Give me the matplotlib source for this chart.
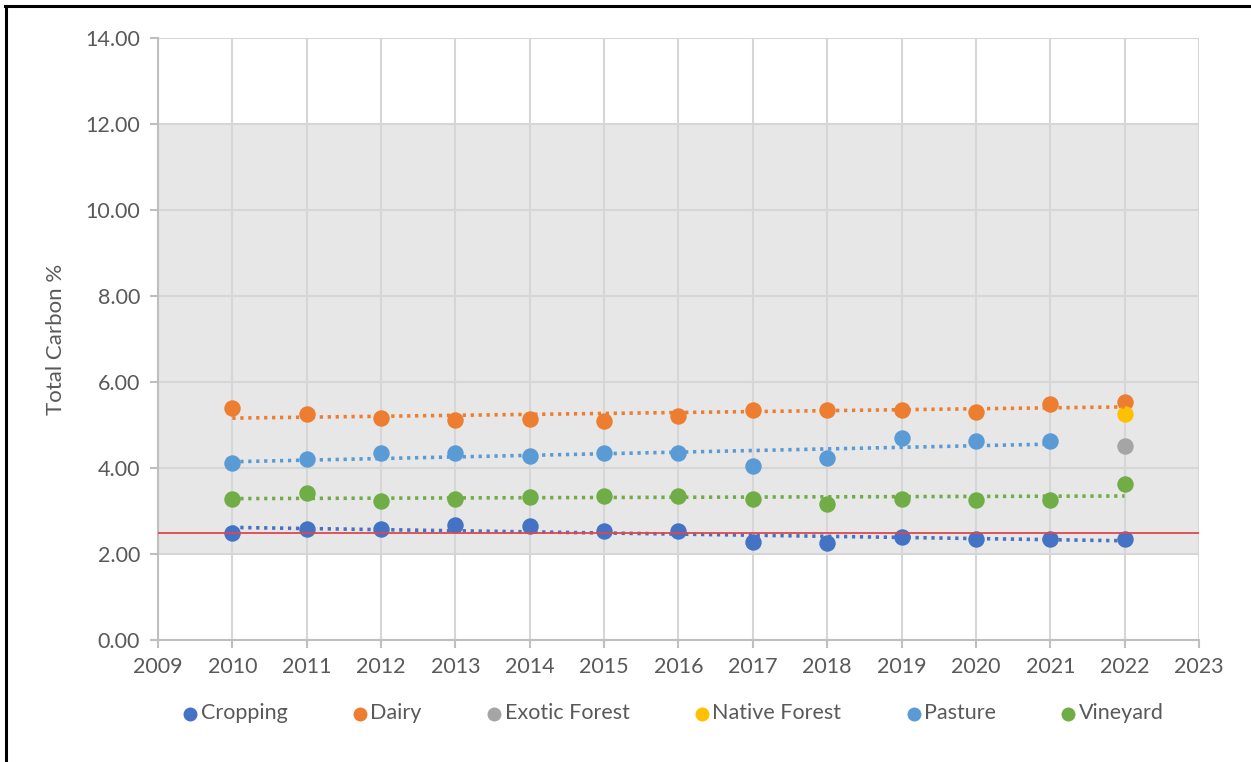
import matplotlib.pyplot as plt
import numpy as np

plt.rcParams['font.family'] = ['Lato', 'DejaVu Sans']

# data
years = [2010, 2011, 2012, 2013, 2014, 2015, 2016, 2017, 2018, 2019, 2020, 2021, 2022]
cropping = [2.50, 2.57, 2.57, 2.67, 2.65, 2.53, 2.53, 2.29, 2.26, 2.40, 2.35, 2.35, 2.35]
dairy = [5.40, 5.26, 5.16, 5.12, 5.13, 5.10, 5.22, 5.35, 5.35, 5.35, 5.31, 5.50, 5.53]
pasture_years = years[:-1]
pasture = [4.12, 4.21, 4.34, 4.34, 4.28, 4.34, 4.34, 4.05, 4.24, 4.69, 4.63, 4.63]
vineyard = [3.27, 3.43, 3.24, 3.29, 3.33, 3.36, 3.35, 3.29, 3.16, 3.29, 3.26, 3.26, 3.62]
exotic_years = [2022]
exotic = [4.51]
native_years = [2022]
native = [5.26]

band_low, band_high = 2.0, 12.0
threshold = 2.5

series = [
    ("Cropping", years, cropping, "#4472C4"),
    ("Dairy", years, dairy, "#ED7D31"),
    ("Exotic Forest", exotic_years, exotic, "#A5A5A5"),
    ("Native Forest", native_years, native, "#FFC000"),
    ("Pasture", pasture_years, pasture, "#5B9BD5"),
    ("Vineyard", years, vineyard, "#70AD47"),
]

fig = plt.figure(figsize=(12.51, 7.62), dpi=100)
ax = fig.add_axes([0.1263, 0.1601, 0.8321, 0.7900])

ax.axhspan(band_low, band_high, color="#E7E7E7", zorder=0, lw=0)

for name, xs, ys, col in series:
    ax.scatter(xs, ys, s=140, color=col, label=name, zorder=3, lw=0)
    if len(xs) > 1:
        k, b = np.polyfit(xs, ys, 1)
        xx = np.array([xs[0], xs[-1]])
        ax.plot(xx, k * xx + b, color=col, lw=2.6, ls=(0, (0.9, 1.3)), zorder=4)

ax.axhline(threshold, color="#E0474C", lw=1.3, zorder=5)

ax.set_xlim(2009, 2023)
ax.set_ylim(0, 14)
ax.set_xticks(range(2009, 2024))
ax.set_yticks(np.arange(0, 15, 2))
ax.set_yticklabels(["%.2f" % v for v in np.arange(0, 15, 2)])

ax.grid(True, color="#D6D6D6", lw=1.5, zorder=1)
ax.set_axisbelow(True)
for s in ["top", "right"]:
    ax.spines[s].set_visible(False)
for s in ["left", "bottom"]:
    ax.spines[s].set_color("#BFBFBF")
    ax.spines[s].set_linewidth(1.5)
    ax.spines[s].set_zorder(2)

ax.tick_params(axis="both", colors="#BFBFBF", labelcolor="#595959",
               labelsize=15.5, width=1.5, length=6)
ax.tick_params(axis="y", pad=7)
ax.tick_params(axis="x", pad=6)

ax.set_ylabel("Total Carbon %", fontsize=16, color="#595959", labelpad=14)

ax.legend(loc="center", bbox_to_anchor=(0.494, -0.122), ncol=6, frameon=False,
          fontsize=15.5, labelcolor="#595959", handletextpad=0.05,
          handlelength=0.9, columnspacing=2.9, markerscale=0.85,
          borderaxespad=0)

# frame lines on the left and top of the picture
fig.add_artist(plt.Line2D([0.005, 0.005], [0, 0.992], color="black", lw=2.2))
fig.add_artist(plt.Line2D([0.004, 1], [0.992, 0.992], color="black", lw=2.2))

fig.savefig("out.png", dpi=100)
